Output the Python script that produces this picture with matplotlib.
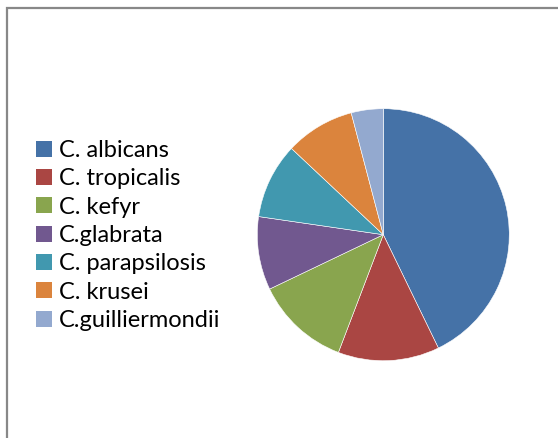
import matplotlib
matplotlib.use("Agg")
import matplotlib.pyplot as plt
from matplotlib.patches import Rectangle, Patch

labels = ["C. albicans", "C. tropicalis", "C. kefyr", "C.glabrata",
          "C. parapsilosis", "C. krusei", "C.guilliermondii"]
values = [42.8, 13.0, 12.1, 9.4, 9.7, 8.9, 4.1]
colors = ["#4572A7", "#AA4643", "#89A54E", "#71588F", "#4198AF", "#DB843D", "#93A9CF"]

plt.rcParams["font.family"] = ["Lato", "DejaVu Sans"]

fig = plt.figure(figsize=(5.58, 4.38), dpi=100)

# outer frame (chart area border, cut off at right/bottom)
fig.patches.append(Rectangle((7 / 558, -0.1), 1.2, 1 - 8 / 438 + 0.1,
                             transform=fig.transFigure, fill=False,
                             edgecolor="#888888", linewidth=1.6))

ax = fig.add_axes([257.3 / 558, (438 - 360.7) / 438, 252 / 558, 252 / 438])
ax.pie(values, colors=colors, startangle=90, counterclock=False,
       wedgeprops=dict(edgecolor="white", linewidth=0.4))
ax.set_xlim(-1, 1)
ax.set_ylim(-1, 1)
ax.set_aspect("equal")

handles = [Patch(facecolor=c, edgecolor="none") for c in colors]
fig.legend(handles, labels, loc="upper left",
           bbox_to_anchor=(36 / 558, 1 - 140 / 438), frameon=False,
           fontsize=17, handlelength=0.68, handleheight=0.68,
           handletextpad=0.28, labelspacing=0.31, borderaxespad=0,
           borderpad=0)

fig.savefig("out.png", dpi=100)
